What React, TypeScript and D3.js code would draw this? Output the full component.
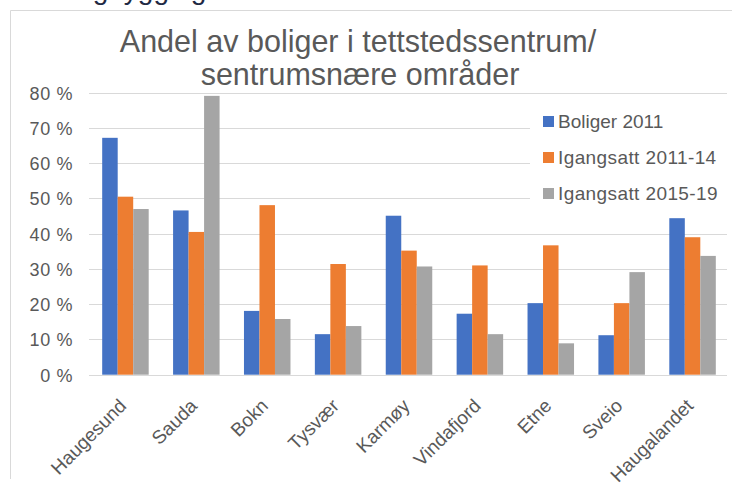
import React from "react";
import * as d3 from "d3";

const categories = ["Haugesund", "Sauda", "Bokn", "Tysvær", "Karmøy", "Vindafjord", "Etne", "Sveio", "Haugalandet"];
const seriesNames = ["Boliger 2011", "Igangsatt 2011-14", "Igangsatt 2015-19"];
const boliger2011 = [67.2, 46.6, 18.1, 11.5, 45.1, 17.3, 20.3, 11.2, 44.4];
const igangsatt1114 = [50.5, 40.5, 48.1, 31.4, 35.2, 31.0, 36.7, 20.3, 39.0];
const igangsatt1519 = [47.0, 79.1, 15.8, 13.8, 30.7, 11.5, 8.9, 29.1, 33.7];
const yTicks = [0, 10, 20, 30, 40, 50, 60, 70, 80];
const colors = ["#4472C4", "#ED7D31", "#A5A5A5"];

const W = 732;
const H = 486;
const FONT = "'Liberation Sans', Arial, sans-serif";

export default function App() {
  const series = [boliger2011, igangsatt1114, igangsatt1519];
  const x = d3.scaleBand<string>().domain(categories).range([90, 728]).padding(0);
  const groupW = x.bandwidth() * 0.656;
  const xs = d3.scaleBand<number>().domain([0, 1, 2]).range([0, groupW]).padding(0);
  const y = d3.scaleLinear().domain([0, 80]).range([374.7, 92.7]);

  return (
    <svg width={W} height={H} style={{ position: "absolute", left: 0, top: 0, background: "#fff" }}>
      <rect x={0} y={0} width={W} height={H} fill="#fff" />
      <text x={46} y={-1} fontFamily={FONT} fontSize={28} fill="#1f2a44">Boligbygging</text>
      {/* chart frame */}
      <line x1={10.5} y1={10.5} x2={W} y2={10.5} stroke="#D9D9D9" />
      <line x1={10.5} y1={10.5} x2={10.5} y2={479} stroke="#D9D9D9" />

      {/* title */}
      <text x={358} y={52} textAnchor="middle" fontFamily={FONT} fontSize={30.5} fill="#595959">
        Andel av boliger i tettstedssentrum/
      </text>
      <text x={360} y={85} textAnchor="middle" fontFamily={FONT} fontSize={30.5} fill="#595959">
        sentrumsnære områder
      </text>

      {/* gridlines */}
      {yTicks.map((t) => (
        <line key={t} x1={89} x2={727} y1={Math.round(y(t)) + 0.5} y2={Math.round(y(t)) + 0.5} stroke="#D9D9D9" strokeWidth={1} />
      ))}
      {yTicks.map((t) => (
        <text key={"l" + t} x={73} y={y(t)} dy="0.38em" textAnchor="end" fontFamily={FONT} fontSize={18} letterSpacing={0.6} fill="#595959">
          {t} %
        </text>
      ))}

      {/* legend background */}
      <rect x={530} y={100} width={202} height={104} fill="#fff" />

      {/* bars */}
      {categories.map((c, i) => {
        const gx = (x(c) as number) + (x.bandwidth() - groupW) / 2;
        return (
          <g key={c}>
            {series.map((s, k) => (
              <rect
                key={k}
                x={gx + (xs(k) as number)}
                y={y(s[i])}
                width={xs.bandwidth()}
                height={y(0) - y(s[i])}
                fill={colors[k]}
              />
            ))}
          </g>
        );
      })}

      {/* x labels */}
      {categories.map((c) => {
        const cx = (x(c) as number) + x.bandwidth() / 2 + 2;
        const cy = 407;
        return (
          <text
            key={"x" + c}
            x={cx}
            y={cy}
            textAnchor="end"
            fontFamily={FONT}
            fontSize={19}
            fill="#595959"
            transform={`rotate(-45 ${cx} ${cy})`}
          >
            {c}
          </text>
        );
      })}

      {/* legend */}
      {seriesNames.map((n, k) => {
        const cy = 121.5 + k * 36;
        return (
          <g key={n}>
            <rect x={543} y={cy - 5.5} width={11} height={11} fill={colors[k]} />
            <text x={558} y={cy} dy="0.36em" fontFamily={FONT} fontSize={19} fill="#595959" letterSpacing={k > 0 ? 0.4 : 0}>
              {n}
            </text>
          </g>
        );
      })}
    </svg>
  );
}
